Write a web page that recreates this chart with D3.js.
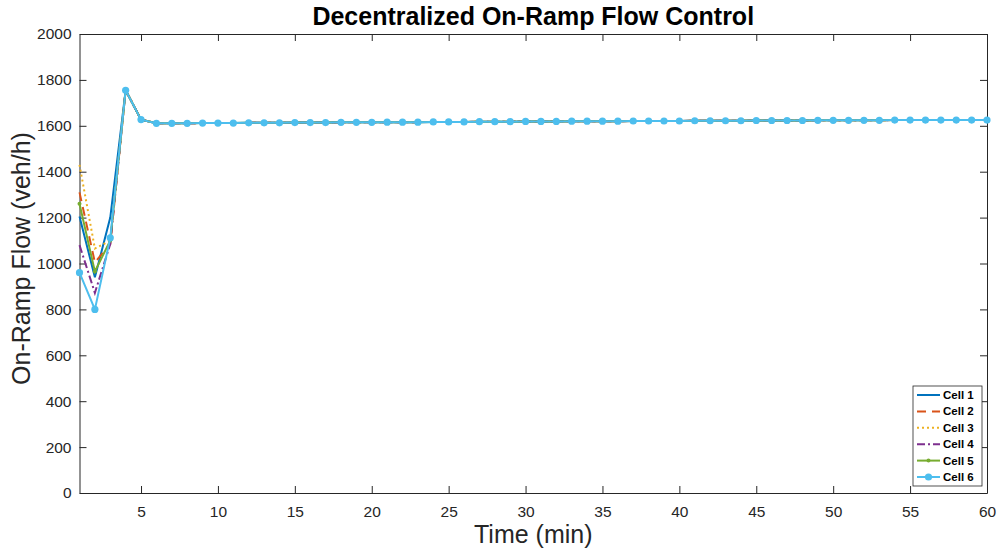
<!DOCTYPE html>
<head>
<meta charset="utf-8">
<title>Decentralized On-Ramp Flow Control</title>
<script src="https://d3js.org/d3.v7.min.js"></script>
<style>
  body { margin: 0; background: #fff; }
  text { font-family: "Liberation Sans", Arial, sans-serif; }
</style>
</head>
<body>
<div id="chart"></div>
<script>
// first minutes differ per cell, afterwards all cells follow the same flow
var cell1Start = [1205, 940, 1200, 1755];
var cell2Start = [1310, 1005, 1085, 1755];
var cell3Start = [1430, 1065, 1100, 1755];
var cell4Start = [1080, 872, 1085, 1755];
var cell5Start = [1260, 965, 1100, 1755];
var cell6Start = [960, 800, 1112, 1755];

// minutes 5..60
var commonTail = [1627,
  1611, 1611, 1611, 1612, 1612, 1612, 1613, 1613, 1613, 1614, 1614, 1614,
  1615, 1615, 1615, 1616, 1616, 1616, 1617, 1617, 1617, 1618, 1618, 1618,
  1619, 1619, 1619, 1620, 1620, 1620, 1620, 1621, 1621, 1621, 1621,
  1622, 1622, 1622, 1622, 1623, 1623, 1623, 1623, 1624, 1624, 1624, 1624, 1624,
  1625, 1625, 1625, 1625, 1625, 1625, 1625];

var cellNames = ["Cell 1", "Cell 2", "Cell 3", "Cell 4", "Cell 5", "Cell 6"];
var cellColors = ["#0072BD", "#D95319", "#EDB120", "#7E2F8E", "#77AC30", "#4DBEEE"];
var cellDash = [null, "9,6", "2,3", "8,3,2,3", null, null];
var xTicks = [5, 10, 15, 20, 25, 30, 35, 40, 45, 50, 55, 60];
var yTicks = [0, 200, 400, 600, 800, 1000, 1200, 1400, 1600, 1800, 2000];

var starts = [cell1Start, cell2Start, cell3Start, cell4Start, cell5Start, cell6Start];
var series = starts.map(function(s, i) {
  var vals = s.concat(commonTail);
  return { name: cellNames[i], color: cellColors[i], dash: cellDash[i],
           values: vals.map(function(v, j) { return { t: j + 1, v: v }; }) };
});

var margin = {top: 34, right: 13, bottom: 57, left: 79.5},
    width = 1000 - margin.left - margin.right,
    height = 550 - margin.top - margin.bottom;

var svg = d3.select("#chart").append("svg")
    .attr("width", 1000).attr("height", 550)
  .append("g")
    .attr("transform", "translate(" + margin.left + "," + margin.top + ")");

var x = d3.scaleLinear().domain([1, 60]).range([0, width]);
var y = d3.scaleLinear().domain([0, 2000]).range([height, 0]);

// axes (MATLAB style, inward ticks, box on)
var xAxis = svg.append("g").attr("transform", "translate(0," + height + ")")
    .call(d3.axisBottom(x).tickValues(xTicks).tickSizeInner(-7).tickSizeOuter(0).tickPadding(13).tickFormat(d3.format("d")));
var xTop = svg.append("g")
    .call(d3.axisTop(x).tickValues(xTicks).tickSizeInner(-7).tickSizeOuter(0).tickFormat(""));
var yAxis = svg.append("g")
    .call(d3.axisLeft(y).tickValues(yTicks).tickSizeInner(-7).tickSizeOuter(0).tickPadding(8).tickFormat(d3.format("d")));
var yRight = svg.append("g").attr("transform", "translate(" + width + ",0)")
    .call(d3.axisRight(y).tickValues(yTicks).tickSizeInner(-7).tickSizeOuter(0).tickFormat(""));

[xAxis, xTop, yAxis, yRight].forEach(function(a) {
  a.selectAll("path,line").attr("stroke", "#262626");
  a.selectAll("text").attr("fill", "#262626").style("font-size", "15.5px")
    .style("font-family", "Liberation Sans, Arial, sans-serif");
});

var line = d3.line().x(function(d) { return x(d.t); }).y(function(d) { return y(d.v); });

svg.append("defs").append("clipPath").attr("id", "clip")
  .append("rect").attr("x", -6).attr("y", -6).attr("width", width + 12).attr("height", height + 12);

var plot = svg.append("g").attr("clip-path", "url(#clip)");

series.forEach(function(s, i) {
  plot.append("path")
    .datum(s.values)
    .attr("fill", "none")
    .attr("stroke", s.color)
    .attr("stroke-width", 2)
    .attr("stroke-dasharray", s.dash)
    .attr("d", line);
  if (i === 4) {
    plot.selectAll(".dot5").data(s.values).enter().append("circle")
      .attr("cx", function(d) { return x(d.t); })
      .attr("cy", function(d) { return y(d.v); })
      .attr("r", 2).attr("fill", s.color);
  }
  if (i === 5) {
    plot.selectAll(".dot6").data(s.values).enter().append("circle")
      .attr("cx", function(d) { return x(d.t); })
      .attr("cy", function(d) { return y(d.v); })
      .attr("r", 3.6).attr("fill", s.color);
  }
});

// title and labels
svg.append("text")
  .attr("x", width / 2).attr("y", -9)
  .attr("text-anchor", "middle")
  .style("font-size", "25px").style("font-weight", "bold")
  .attr("fill", "#000")
  .text("Decentralized On-Ramp Flow Control");

svg.append("text")
  .attr("x", width / 2).attr("y", height + 50)
  .attr("text-anchor", "middle")
  .style("font-size", "25px").attr("fill", "#262626")
  .text("Time (min)");

svg.append("text")
  .attr("transform", "rotate(-90)")
  .attr("x", -height / 2 + 5).attr("y", -50)
  .attr("text-anchor", "middle")
  .style("font-size", "25px").attr("fill", "#262626")
  .text("On-Ramp Flow (veh/h)");

// legend
var lg = svg.append("g").attr("transform", "translate(" + (913 - margin.left) + "," + (386 - margin.top) + ")");
lg.append("rect").attr("width", 69).attr("height", 100)
  .attr("fill", "#fff").attr("stroke", "#262626").attr("stroke-width", 0.8);
series.forEach(function(s, i) {
  var cy = 9 + i * 16.4;
  lg.append("line").attr("x1", 4).attr("x2", 27).attr("y1", cy).attr("y2", cy)
    .attr("stroke", s.color).attr("stroke-width", 2).attr("stroke-dasharray", s.dash);
  if (i === 4) lg.append("circle").attr("cx", 15.5).attr("cy", cy).attr("r", 2).attr("fill", s.color);
  if (i === 5) lg.append("circle").attr("cx", 15.5).attr("cy", cy).attr("r", 3.6).attr("fill", s.color);
  lg.append("text").attr("x", 30).attr("y", cy + 4)
    .style("font-size", "11.5px").style("font-weight", "bold").attr("fill", "#000")
    .text(s.name);
});
</script>
</body>
